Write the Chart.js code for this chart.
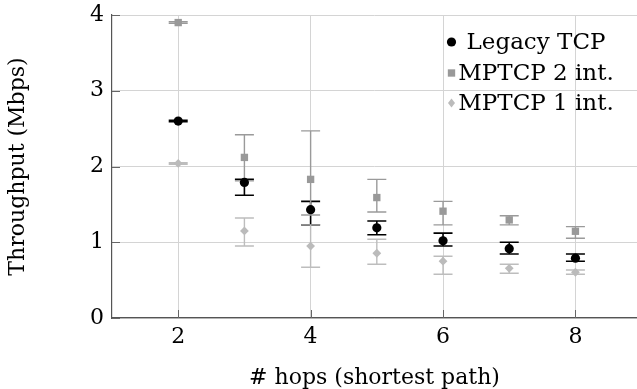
<!DOCTYPE html>
<html>
<head>
<meta charset="utf-8">
<script src="https://cdn.jsdelivr.net/npm/chart.js@4"></script>
<style>
  html, body { margin: 0; padding: 0; background: #fff; }
  canvas { display: block; }
</style>
</head>
<body>
<canvas id="c" width="637" height="389"></canvas>
<script>
// ---- data ----
const hops = [2, 3, 4, 5, 6, 7, 8];
const xTicks = [2, 4, 6, 8];
const yTicks = [0, 1, 2, 3, 4];

const seriesLabels = ['Legacy TCP', 'MPTCP 2 int.', 'MPTCP 1 int.'];

const legacyMean = [2.60, 1.79, 1.43, 1.19, 1.02, 0.915, 0.79];
const legacyLow  = [2.59, 1.62, 1.23, 1.10, 0.95, 0.845, 0.75];
const legacyHigh = [2.61, 1.83, 1.54, 1.28, 1.12, 1.00, 0.845];

const mptcp2Mean = [3.90, 2.12, 1.83, 1.59, 1.41, 1.295, 1.145];
const mptcp2Low  = [3.89, 1.81, 1.36, 1.40, 1.23, 1.23, 1.053];
const mptcp2High = [3.91, 2.42, 2.47, 1.83, 1.54, 1.35, 1.206];

const mptcp1Mean = [2.04, 1.15, 0.95, 0.855, 0.75, 0.656, 0.604];
const mptcp1Low  = [2.03, 0.95, 0.67, 0.71, 0.577, 0.59, 0.577];
const mptcp1High = [2.05, 1.32, 1.23, 1.04, 0.815, 0.71, 0.634];

const FONT = "'DejaVu Serif', serif";
const FSIZE = 22;
const LEGEND_FSIZE = 23;

function pts(ys) { return hops.map((x, i) => ({ x: x, y: ys[i] })); }

const errorBars = {
  id: 'errorBars',
  beforeDatasetsDraw(chart) {
    const ctx = chart.ctx, xs = chart.scales.x, ys = chart.scales.y;
    chart.data.datasets.forEach((ds) => {
      ctx.save();
      ctx.strokeStyle = ds.errColor;
      ctx.lineWidth = ds.errWidth;
      ds.data.forEach((p, i) => {
        const px = xs.getPixelForValue(p.x);
        const lo = ys.getPixelForValue(ds.errLow[i]);
        const hi = ys.getPixelForValue(ds.errHigh[i]);
        ctx.beginPath();
        ctx.moveTo(px, lo); ctx.lineTo(px, hi);
        ctx.moveTo(px - 9.5, lo); ctx.lineTo(px + 9.5, lo);
        ctx.moveTo(px - 9.5, hi); ctx.lineTo(px + 9.5, hi);
        ctx.stroke();
      });
      ctx.restore();
    });
  }
};

const innerTicks = {
  id: 'innerTicks',
  afterDraw(chart) {
    const ctx = chart.ctx, xs = chart.scales.x, ys = chart.scales.y;
    const a = chart.chartArea;
    ctx.save();
    ctx.strokeStyle = '#666';
    ctx.lineWidth = 1;
    ctx.beginPath();
    xTicks.forEach(v => {
      const px = Math.round(xs.getPixelForValue(v)) + 0.5;
      ctx.moveTo(px, a.bottom); ctx.lineTo(px, a.bottom - 8);
    });
    yTicks.forEach(v => {
      const py = Math.round(ys.getPixelForValue(v)) + 0.5;
      ctx.moveTo(a.left, py); ctx.lineTo(a.left + 8, py);
    });
    ctx.stroke();
    ctx.restore();
  }
};

const customLegend = {
  id: 'customLegend',
  afterDraw(chart) {
    const ctx = chart.ctx;
    const rows = [42, 73, 103];
    const markerX = 451.5;
    const textCenter = 536;
    ctx.save();
    ctx.font = LEGEND_FSIZE + 'px ' + FONT;
    ctx.textBaseline = 'middle';
    ctx.textAlign = 'center';
    chart.data.datasets.forEach((ds, i) => {
      ctx.fillStyle = ds.backgroundColor;
      ctx.beginPath();
      if (ds.pointStyle === 'circle') {
        ctx.arc(markerX, rows[i], ds.pointRadius, 0, Math.PI * 2);
      } else if (ds.pointStyle === 'rect') {
        const s = Math.SQRT1_2 * ds.pointRadius;
        ctx.rect(markerX - s, rows[i] - s, 2 * s, 2 * s);
      } else {
        const r = ds.pointRadius;
        ctx.moveTo(markerX, rows[i] - r);
        ctx.lineTo(markerX + r * 0.8, rows[i]);
        ctx.lineTo(markerX, rows[i] + r);
        ctx.lineTo(markerX - r * 0.8, rows[i]);
        ctx.closePath();
      }
      ctx.fill();
      ctx.fillStyle = '#000';
      ctx.fillText(ds.label, textCenter, rows[i] + 1);
    });
    ctx.restore();
  }
};

new Chart(document.getElementById('c'), {
  type: 'scatter',
  data: {
    datasets: [
      {
        label: seriesLabels[0], data: pts(legacyMean),
        errLow: legacyLow, errHigh: legacyHigh, errColor: '#000', errWidth: 1.6,
        pointStyle: 'circle', pointRadius: 4.6, backgroundColor: '#000', borderColor: '#000', borderWidth: 0
      },
      {
        label: seriesLabels[1], data: pts(mptcp2Mean),
        errLow: mptcp2Low, errHigh: mptcp2High, errColor: '#9a9a9a', errWidth: 1.4,
        pointStyle: 'rect', pointRadius: 5.2, backgroundColor: '#999999', borderColor: '#999999', borderWidth: 0
      },
      {
        label: seriesLabels[2], data: pts(mptcp1Mean),
        errLow: mptcp1Low, errHigh: mptcp1High, errColor: '#bdbdbd', errWidth: 1.4,
        pointStyle: 'rectRot', pointRadius: 4.4, backgroundColor: '#bbbbbb', borderColor: '#bbbbbb', borderWidth: 0
      }
    ]
  },
  options: {
    responsive: false,
    animation: false,
    layout: { autoPadding: false, padding: { top: 15, right: 0, left: 0, bottom: 0 } },
    plugins: { legend: { display: false }, tooltip: { enabled: false } },
    scales: {
      x: {
        type: 'linear', min: 1, max: 8.93,
        afterBuildTicks: s => { s.ticks = xTicks.map(v => ({ value: v })); },
        afterFit: s => { s.height = 71; s.paddingLeft = 0; s.paddingRight = 0; },
        grid: { color: '#d4d4d4', lineWidth: 1, drawTicks: false },
        border: { display: true, color: '#555', width: 1.2 },
        ticks: { color: '#000', font: { family: FONT, size: FSIZE }, padding: 6, maxRotation: 0 },
        title: { display: true, text: '# hops (shortest path)', color: '#000',
                 font: { family: FONT, size: FSIZE, lineHeight: 1.0 }, padding: { top: 0, bottom: 0 } }
      },
      y: {
        type: 'linear', min: 0, max: 4,
        afterBuildTicks: s => { s.ticks = yTicks.map(v => ({ value: v })); },
        afterFit: s => { s.width = 112; s.paddingTop = 0; s.paddingBottom = 0; },
        grid: { color: '#d4d4d4', lineWidth: 1, drawTicks: false },
        border: { display: true, color: '#555', width: 1.2 },
        ticks: { color: '#000', font: { family: FONT, size: FSIZE }, padding: 8 },
        title: { display: true, text: 'Throughput (Mbps)', color: '#000',
                 font: { family: FONT, size: FSIZE, lineHeight: 1.2 }, padding: { top: 5, bottom: 0 } }
      }
    }
  },
  plugins: [errorBars, innerTicks, customLegend]
});
</script>
</body>
</html>
